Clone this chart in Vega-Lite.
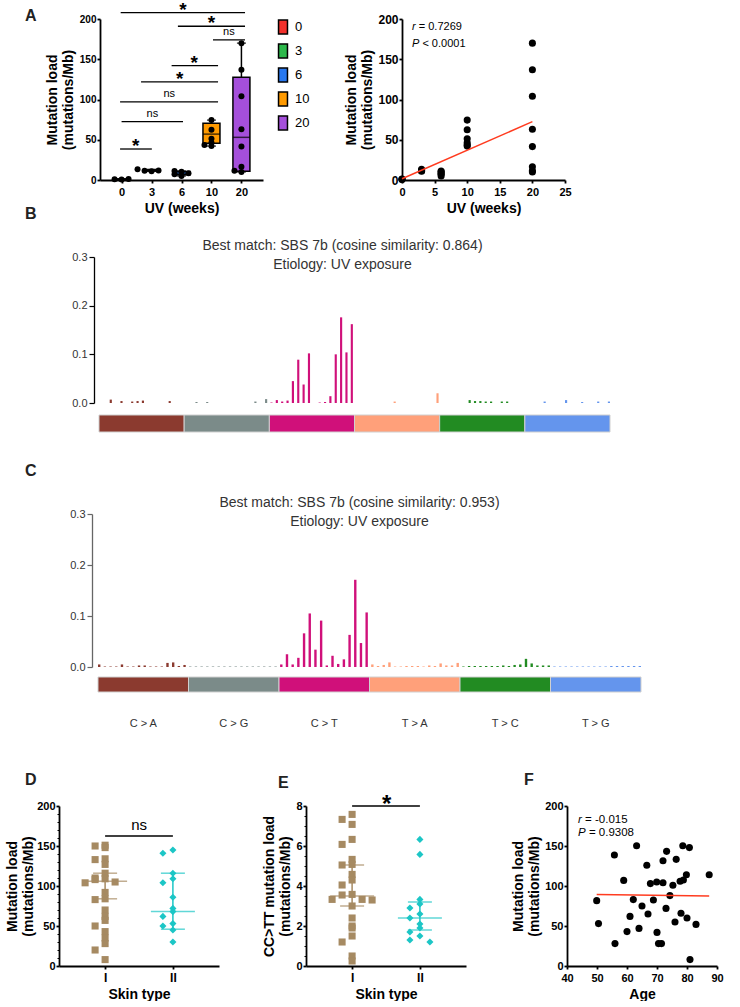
{
"$schema": "https://vega.github.io/schema/vega-lite/v6.json",
"background": "white",
"padding": {"left": 0, "top": 0, "right": 0, "bottom": 0},
"bounds": "flush",
"spacing": 0,
"resolve": {"scale": {"color": "independent", "shape": "independent", "xOffset": "independent"}, "legend": {"color": "independent", "shape": "independent"}},
"config": {
  "view": {"stroke": null},
  "font": "Liberation Sans",
  "axis": {"domainColor": "#000", "tickColor": "#000", "labelColor": "#000", "titleColor": "#000", "labelFont": "Liberation Sans", "titleFont": "Liberation Sans", "labelFontWeight": "bold", "titleFontWeight": "bold", "labelFontSize": 11, "titleFontSize": 14, "grid": false, "tickSize": 3, "labelPadding": 1, "titlePadding": 4, "domainWidth": 1.8, "tickWidth": 1.8, "titleLineHeight": 16, "labelFlush": false, "labelOverlap": false},
  "axisX": {"labelPadding": 3, "labelAngle": 0},
  "title": {"font": "Liberation Sans", "color": "#222"}
},
"datasets": {
  "ptsA": [{"wk":0,"v":0.5},{"wk":0,"v":1.0},{"wk":0,"v":1.3},{"wk":3,"v":10.8},{"wk":3,"v":11.6},{"wk":3,"v":11.8},{"wk":3,"v":13.2},{"wk":6,"v":5},{"wk":6,"v":7},{"wk":6,"v":8.5},{"wk":6,"v":10.2},{"wk":6,"v":11.2},{"wk":10,"v":42.1},{"wk":10,"v":43.5},{"wk":10,"v":46.3},{"wk":10,"v":51.2},{"wk":10,"v":62.4},{"wk":10,"v":74.4},{"wk":20,"v":10},{"wk":20,"v":11.5},{"wk":20,"v":16.5},{"wk":20,"v":41.5},{"wk":20,"v":63},{"wk":20,"v":104},{"wk":20,"v":137},{"wk":20,"v":170}],
  "boxA": [{"wk":0,"lo":0.5,"q1":0.6,"med":1,"q3":1.2,"hi":1.3},{"wk":3,"lo":10.8,"q1":11.2,"med":11.7,"q3":12.6,"hi":13.2},{"wk":6,"lo":5,"q1":6.5,"med":8.5,"q3":10.5,"hi":11.2},{"wk":10,"lo":42.1,"q1":45.5,"med":57,"q3":70.5,"hi":74.4},{"wk":20,"lo":10,"q1":11,"med":53,"q3":127.5,"hi":170}],
  "sigA": [{"x1":-0.03,"x2":4.12,"xm":2.05,"y":208,"lab":"*"},{"x1":1.88,"x2":4.12,"xm":3.0,"y":191,"lab":"*"},{"x1":3.05,"x2":4.12,"xm":3.58,"y":174,"lab":"ns"},{"x1":1.67,"x2":3.22,"xm":2.42,"y":142,"lab":"*"},{"x1":0.65,"x2":3.22,"xm":1.94,"y":122,"lab":"*"},{"x1":-0.05,"x2":3.22,"xm":1.59,"y":97,"lab":"ns"},{"x1":0.0,"x2":2.05,"xm":1.03,"y":72.5,"lab":"ns"},{"x1":-0.05,"x2":1.01,"xm":0.47,"y":38.5,"lab":"*"}],
  "fitA": [{"wk":0,"v":1.5},{"wk":20,"v":72.5}],
  "muts": [{"m":"C>A"},{"m":"C>G"},{"m":"C>T"},{"m":"T>A"},{"m":"T>C"},{"m":"T>G"}],
  "sigB": [
{"m":"C>A","c":"A[C>A]A","v":0},{"m":"C>A","c":"A[C>A]C","v":0},{"m":"C>A","c":"A[C>A]G","v":0.007},{"m":"C>A","c":"A[C>A]T","v":0},{"m":"C>A","c":"C[C>A]A","v":0.004},{"m":"C>A","c":"C[C>A]C","v":0},{"m":"C>A","c":"C[C>A]G","v":0.003},{"m":"C>A","c":"C[C>A]T","v":0.004},{"m":"C>A","c":"G[C>A]A","v":0.005},{"m":"C>A","c":"G[C>A]C","v":0},{"m":"C>A","c":"G[C>A]G","v":0},{"m":"C>A","c":"G[C>A]T","v":0},{"m":"C>A","c":"T[C>A]A","v":0},{"m":"C>A","c":"T[C>A]C","v":0.004},{"m":"C>A","c":"T[C>A]G","v":0},{"m":"C>A","c":"T[C>A]T","v":0},
{"m":"C>G","c":"A[C>G]A","v":0},{"m":"C>G","c":"A[C>G]C","v":0},{"m":"C>G","c":"A[C>G]G","v":0.002},{"m":"C>G","c":"A[C>G]T","v":0},{"m":"C>G","c":"C[C>G]A","v":0.002},{"m":"C>G","c":"C[C>G]C","v":0},{"m":"C>G","c":"C[C>G]G","v":0},{"m":"C>G","c":"C[C>G]T","v":0},{"m":"C>G","c":"G[C>G]A","v":0},{"m":"C>G","c":"G[C>G]C","v":0},{"m":"C>G","c":"G[C>G]G","v":0},{"m":"C>G","c":"G[C>G]T","v":0},{"m":"C>G","c":"T[C>G]A","v":0},{"m":"C>G","c":"T[C>G]C","v":0.003},{"m":"C>G","c":"T[C>G]G","v":0},{"m":"C>G","c":"T[C>G]T","v":0.008},
{"m":"C>T","c":"A[C>T]A","v":0.001},{"m":"C>T","c":"A[C>T]C","v":0.006},{"m":"C>T","c":"A[C>T]G","v":0.003},{"m":"C>T","c":"A[C>T]T","v":0.005},{"m":"C>T","c":"C[C>T]A","v":0.045},{"m":"C>T","c":"C[C>T]C","v":0.089},{"m":"C>T","c":"C[C>T]G","v":0.038},{"m":"C>T","c":"C[C>T]T","v":0.102},{"m":"C>T","c":"G[C>T]A","v":0},{"m":"C>T","c":"G[C>T]C","v":0.001},{"m":"C>T","c":"G[C>T]G","v":0.002},{"m":"C>T","c":"G[C>T]T","v":0.014},{"m":"C>T","c":"T[C>T]A","v":0.1},{"m":"C>T","c":"T[C>T]C","v":0.176},{"m":"C>T","c":"T[C>T]G","v":0.104},{"m":"C>T","c":"T[C>T]T","v":0.162},
{"m":"T>A","c":"A[T>A]A","v":0},{"m":"T>A","c":"A[T>A]C","v":0},{"m":"T>A","c":"A[T>A]G","v":0},{"m":"T>A","c":"A[T>A]T","v":0},{"m":"T>A","c":"C[T>A]A","v":0},{"m":"T>A","c":"C[T>A]C","v":0},{"m":"T>A","c":"C[T>A]G","v":0},{"m":"T>A","c":"C[T>A]T","v":0.003},{"m":"T>A","c":"G[T>A]A","v":0},{"m":"T>A","c":"G[T>A]C","v":0},{"m":"T>A","c":"G[T>A]G","v":0},{"m":"T>A","c":"G[T>A]T","v":0},{"m":"T>A","c":"T[T>A]A","v":0},{"m":"T>A","c":"T[T>A]C","v":0},{"m":"T>A","c":"T[T>A]G","v":0},{"m":"T>A","c":"T[T>A]T","v":0.02},
{"m":"T>C","c":"A[T>C]A","v":0},{"m":"T>C","c":"A[T>C]C","v":0},{"m":"T>C","c":"A[T>C]G","v":0},{"m":"T>C","c":"A[T>C]T","v":0},{"m":"T>C","c":"C[T>C]A","v":0},{"m":"T>C","c":"C[T>C]C","v":0.006},{"m":"T>C","c":"C[T>C]G","v":0.004},{"m":"T>C","c":"C[T>C]T","v":0.004},{"m":"T>C","c":"G[T>C]A","v":0.003},{"m":"T>C","c":"G[T>C]C","v":0.003},{"m":"T>C","c":"G[T>C]G","v":0},{"m":"T>C","c":"G[T>C]T","v":0.003},{"m":"T>C","c":"T[T>C]A","v":0.003},{"m":"T>C","c":"T[T>C]C","v":0},{"m":"T>C","c":"T[T>C]G","v":0},{"m":"T>C","c":"T[T>C]T","v":0},
{"m":"T>G","c":"A[T>G]A","v":0},{"m":"T>G","c":"A[T>G]C","v":0},{"m":"T>G","c":"A[T>G]G","v":0},{"m":"T>G","c":"A[T>G]T","v":0.003},{"m":"T>G","c":"C[T>G]A","v":0},{"m":"T>G","c":"C[T>G]C","v":0},{"m":"T>G","c":"C[T>G]G","v":0},{"m":"T>G","c":"C[T>G]T","v":0.006},{"m":"T>G","c":"G[T>G]A","v":0},{"m":"T>G","c":"G[T>G]C","v":0},{"m":"T>G","c":"G[T>G]G","v":0.002},{"m":"T>G","c":"G[T>G]T","v":0},{"m":"T>G","c":"T[T>G]A","v":0},{"m":"T>G","c":"T[T>G]C","v":0.003},{"m":"T>G","c":"T[T>G]G","v":0},{"m":"T>G","c":"T[T>G]T","v":0.003}],
  "sigC": [
{"m":"C>A","c":"A[C>A]A","v":0.005},{"m":"C>A","c":"A[C>A]C","v":0.001},{"m":"C>A","c":"A[C>A]G","v":0.001},{"m":"C>A","c":"A[C>A]T","v":0.001},{"m":"C>A","c":"C[C>A]A","v":0.005},{"m":"C>A","c":"C[C>A]C","v":0.001},{"m":"C>A","c":"C[C>A]G","v":0.001},{"m":"C>A","c":"C[C>A]T","v":0.003},{"m":"C>A","c":"G[C>A]A","v":0.003},{"m":"C>A","c":"G[C>A]C","v":0.001},{"m":"C>A","c":"G[C>A]G","v":0.001},{"m":"C>A","c":"G[C>A]T","v":0.001},{"m":"C>A","c":"T[C>A]A","v":0.008},{"m":"C>A","c":"T[C>A]C","v":0.009},{"m":"C>A","c":"T[C>A]G","v":0.002},{"m":"C>A","c":"T[C>A]T","v":0.004},
{"m":"C>G","c":"A[C>G]A","v":0.001},{"m":"C>G","c":"A[C>G]C","v":0.001},{"m":"C>G","c":"A[C>G]G","v":0.001},{"m":"C>G","c":"A[C>G]T","v":0.001},{"m":"C>G","c":"C[C>G]A","v":0.001},{"m":"C>G","c":"C[C>G]C","v":0.001},{"m":"C>G","c":"C[C>G]G","v":0.001},{"m":"C>G","c":"C[C>G]T","v":0.001},{"m":"C>G","c":"G[C>G]A","v":0.001},{"m":"C>G","c":"G[C>G]C","v":0.001},{"m":"C>G","c":"G[C>G]G","v":0.001},{"m":"C>G","c":"G[C>G]T","v":0.001},{"m":"C>G","c":"T[C>G]A","v":0.001},{"m":"C>G","c":"T[C>G]C","v":0.001},{"m":"C>G","c":"T[C>G]G","v":0.001},{"m":"C>G","c":"T[C>G]T","v":0.001},
{"m":"C>T","c":"A[C>T]A","v":0.005},{"m":"C>T","c":"A[C>T]C","v":0.025},{"m":"C>T","c":"A[C>T]G","v":0.005},{"m":"C>T","c":"A[C>T]T","v":0.018},{"m":"C>T","c":"C[C>T]A","v":0.066},{"m":"C>T","c":"C[C>T]C","v":0.105},{"m":"C>T","c":"C[C>T]G","v":0.034},{"m":"C>T","c":"C[C>T]T","v":0.091},{"m":"C>T","c":"G[C>T]A","v":0.003},{"m":"C>T","c":"G[C>T]C","v":0.022},{"m":"C>T","c":"G[C>T]G","v":0.006},{"m":"C>T","c":"G[C>T]T","v":0.015},{"m":"C>T","c":"T[C>T]A","v":0.063},{"m":"C>T","c":"T[C>T]C","v":0.171},{"m":"C>T","c":"T[C>T]G","v":0.047},{"m":"C>T","c":"T[C>T]T","v":0.107},
{"m":"T>A","c":"A[T>A]A","v":0.005},{"m":"T>A","c":"A[T>A]C","v":0.002},{"m":"T>A","c":"A[T>A]G","v":0.004},{"m":"T>A","c":"A[T>A]T","v":0.009},{"m":"T>A","c":"C[T>A]A","v":0.001},{"m":"T>A","c":"C[T>A]C","v":0.001},{"m":"T>A","c":"C[T>A]G","v":0.002},{"m":"T>A","c":"C[T>A]T","v":0.002},{"m":"T>A","c":"G[T>A]A","v":0.002},{"m":"T>A","c":"G[T>A]C","v":0.001},{"m":"T>A","c":"G[T>A]G","v":0.003},{"m":"T>A","c":"G[T>A]T","v":0.002},{"m":"T>A","c":"T[T>A]A","v":0.007},{"m":"T>A","c":"T[T>A]C","v":0.003},{"m":"T>A","c":"T[T>A]G","v":0.003},{"m":"T>A","c":"T[T>A]T","v":0.008},
{"m":"T>C","c":"A[T>C]A","v":0.001},{"m":"T>C","c":"A[T>C]C","v":0.002},{"m":"T>C","c":"A[T>C]G","v":0.002},{"m":"T>C","c":"A[T>C]T","v":0.002},{"m":"T>C","c":"C[T>C]A","v":0.002},{"m":"T>C","c":"C[T>C]C","v":0.002},{"m":"T>C","c":"C[T>C]G","v":0.002},{"m":"T>C","c":"C[T>C]T","v":0.003},{"m":"T>C","c":"G[T>C]A","v":0.002},{"m":"T>C","c":"G[T>C]C","v":0.004},{"m":"T>C","c":"G[T>C]G","v":0.005},{"m":"T>C","c":"G[T>C]T","v":0.016},{"m":"T>C","c":"T[T>C]A","v":0.007},{"m":"T>C","c":"T[T>C]C","v":0.003},{"m":"T>C","c":"T[T>C]G","v":0.003},{"m":"T>C","c":"T[T>C]T","v":0.003},
{"m":"T>G","c":"A[T>G]A","v":0.001},{"m":"T>G","c":"A[T>G]C","v":0.001},{"m":"T>G","c":"A[T>G]G","v":0.001},{"m":"T>G","c":"A[T>G]T","v":0.001},{"m":"T>G","c":"C[T>G]A","v":0.001},{"m":"T>G","c":"C[T>G]C","v":0.001},{"m":"T>G","c":"C[T>G]G","v":0.001},{"m":"T>G","c":"C[T>G]T","v":0.001},{"m":"T>G","c":"G[T>G]A","v":0.001},{"m":"T>G","c":"G[T>G]C","v":0.001},{"m":"T>G","c":"G[T>G]G","v":0.002},{"m":"T>G","c":"G[T>G]T","v":0.002},{"m":"T>G","c":"T[T>G]A","v":0.002},{"m":"T>G","c":"T[T>G]C","v":0.002},{"m":"T>G","c":"T[T>G]G","v":0.002},{"m":"T>G","c":"T[T>G]T","v":0.002}],
  "skinD": [{"t":"I","v":151},{"t":"I","v":150},{"t":"I","v":148},{"t":"I","v":134},{"t":"I","v":133},{"t":"I","v":127},{"t":"I","v":116},{"t":"I","v":110},{"t":"I","v":109},{"t":"I","v":108},{"t":"I","v":105},{"t":"I","v":104},{"t":"I","v":92},{"t":"I","v":84},{"t":"I","v":83},{"t":"I","v":70},{"t":"I","v":62},{"t":"I","v":57},{"t":"I","v":50},{"t":"I","v":43},{"t":"I","v":35},{"t":"I","v":28},{"t":"I","v":20},{"t":"I","v":8},{"t":"II","v":145},{"t":"II","v":141},{"t":"II","v":116},{"t":"II","v":109},{"t":"II","v":104},{"t":"II","v":86},{"t":"II","v":72},{"t":"II","v":68},{"t":"II","v":62},{"t":"II","v":53},{"t":"II","v":50},{"t":"II","v":45},{"t":"II","v":30}],
  "statD": [{"t":"I","med":106,"lo":84,"hi":116},{"t":"II","med":68,"lo":46,"hi":116}],
  "skinE": [{"t":"I","v":7.58},{"t":"I","v":7.33},{"t":"I","v":7.08},{"t":"I","v":6.33},{"t":"I","v":6.08},{"t":"I","v":5.33},{"t":"I","v":5.08},{"t":"I","v":5.05},{"t":"I","v":4.58},{"t":"I","v":4.3},{"t":"I","v":4.05},{"t":"I","v":3.58},{"t":"I","v":3.55},{"t":"I","v":3.33},{"t":"I","v":3.33},{"t":"I","v":3.3},{"t":"I","v":3.0},{"t":"I","v":2.4},{"t":"I","v":2.0},{"t":"I","v":1.9},{"t":"I","v":1.5},{"t":"I","v":1.2},{"t":"I","v":0.5},{"t":"I","v":0.25},{"t":"II","v":6.33},{"t":"II","v":5.58},{"t":"II","v":3.33},{"t":"II","v":3.1},{"t":"II","v":2.9},{"t":"II","v":2.6},{"t":"II","v":2.4},{"t":"II","v":2.1},{"t":"II","v":1.9},{"t":"II","v":1.7},{"t":"II","v":1.5},{"t":"II","v":1.3},{"t":"II","v":1.2}],
  "statE": [{"t":"I","med":3.5,"lo":3.0,"hi":5.05},{"t":"II","med":2.4,"lo":1.8,"hi":3.2}],
  "ageF": [{"age":49.9,"v":81.7},{"age":50.5,"v":53},{"age":55.8,"v":138.7},{"age":56,"v":28},{"age":58.9,"v":107},{"age":60,"v":43},{"age":61,"v":62},{"age":62.1,"v":83},{"age":63.2,"v":150.4},{"age":64,"v":47},{"age":65,"v":75},{"age":66.6,"v":126},{"age":67,"v":65},{"age":67.8,"v":103},{"age":68.8,"v":82.5},{"age":69.9,"v":105},{"age":70,"v":42},{"age":70.5,"v":28},{"age":71.5,"v":28},{"age":72,"v":104},{"age":72,"v":131.6},{"age":73,"v":72},{"age":73.2,"v":143.3},{"age":74.3,"v":88},{"age":75.3,"v":101},{"age":76,"v":55},{"age":76.4,"v":133.3},{"age":77.7,"v":106},{"age":78,"v":66},{"age":78.6,"v":150.4},{"age":78.8,"v":107.5},{"age":79.8,"v":114},{"age":80,"v":60},{"age":80.8,"v":148},{"age":81,"v":8},{"age":83,"v":52},{"age":87.4,"v":114}],
  "fitF": [{"age":49.9,"v":89.5},{"age":87.4,"v":87.5}]
},
"vconcat": [
 {"bounds": "flush", "spacing": 0, "resolve": {"scale": {"color": "independent", "shape": "independent", "xOffset": "independent"}, "legend": {"color": "independent", "shape": "independent"}}, "hconcat": [
   {"width": 100, "height": 1, "data": {"values": []}, "mark": "point", "title": {"text": "A", "anchor": "start", "frame": "group", "dx": 25, "dy": 18, "offset": 0, "baseline": "alphabetic", "fontSize": 16, "fontWeight": "bold", "color": "#222"}},
   {"width": 163, "height": 161, "resolve": {"scale": {"x": "independent"}},
    "layer": [
     {"layer": [
       {"data": {"name": "boxA"}, "mark": {"type": "rule", "color": "#000", "strokeWidth": 1.5},
        "encoding": {"x": {"field": "wk", "type": "ordinal", "scale": {"type": "point", "domain": [0,3,6,10,20], "padding": 0.72}, "axis": {"title": "UV (weeks)"}},
                     "y": {"field": "lo", "type": "quantitative", "scale": {"domain": [0,200], "nice": false}, "axis": {"values": [0,50,100,150,200], "title": ["Mutation load","(mutations/Mb)"], "labelFontSize": 10}},
                     "y2": {"field": "hi"}}},
       {"data": {"name": "boxA"}, "mark": {"type": "bar", "size": 17, "stroke": "#000", "strokeWidth": 1.5},
        "encoding": {"x": {"field": "wk", "type": "ordinal", "scale": {"type": "point", "domain": [0,3,6,10,20], "padding": 0.72}, "axis": {"title": "UV (weeks)"}},
                     "y": {"field": "q1", "type": "quantitative", "scale": {"domain": [0,200], "nice": false}, "axis": {"values": [0,50,100,150,200], "title": ["Mutation load","(mutations/Mb)"], "labelFontSize": 10}},
                     "y2": {"field": "q3"},
                     "color": {"field": "wk", "type": "ordinal", "scale": {"domain": [0,3,6,10,20], "range": ["#F2302B","#2DB84B","#2878F0","#FF9A00","#A54FDB"]},
                               "legend": {"title": null, "orient": "right", "offset": 12, "symbolType": "M-0.65,-1L0.65,-1L0.65,1L-0.65,1Z", "symbolSize": 190, "symbolStrokeColor": "#000", "symbolStrokeWidth": 1.5, "labelFontSize": 13, "labelFont": "Liberation Sans", "labelColor": "#000", "rowPadding": 4, "labelOffset": 4, "padding": 0, "symbolOpacity": 1}}}},
       {"data": {"name": "boxA"}, "mark": {"type": "tick", "orient": "horizontal", "size": 17, "thickness": 1.5, "color": "#000"},
        "encoding": {"x": {"field": "wk", "type": "ordinal", "scale": {"type": "point", "domain": [0,3,6,10,20], "padding": 0.72}, "axis": {"title": "UV (weeks)"}},
                     "y": {"field": "med", "type": "quantitative", "scale": {"domain": [0,200], "nice": false}, "axis": {"values": [0,50,100,150,200], "title": ["Mutation load","(mutations/Mb)"], "labelFontSize": 10}}}},
       {"data": {"name": "boxA"}, "mark": {"type": "tick", "orient": "horizontal", "size": 9, "thickness": 1.5, "color": "#000"},
        "encoding": {"x": {"field": "wk", "type": "ordinal", "scale": {"type": "point", "domain": [0,3,6,10,20], "padding": 0.72}, "axis": {"title": "UV (weeks)"}},
                     "y": {"field": "lo", "type": "quantitative", "scale": {"domain": [0,200], "nice": false}, "axis": {"values": [0,50,100,150,200], "title": ["Mutation load","(mutations/Mb)"], "labelFontSize": 10}}}},
       {"data": {"name": "boxA"}, "mark": {"type": "tick", "orient": "horizontal", "size": 9, "thickness": 1.5, "color": "#000"},
        "encoding": {"x": {"field": "wk", "type": "ordinal", "scale": {"type": "point", "domain": [0,3,6,10,20], "padding": 0.72}, "axis": {"title": "UV (weeks)"}},
                     "y": {"field": "hi", "type": "quantitative", "scale": {"domain": [0,200], "nice": false}, "axis": {"values": [0,50,100,150,200], "title": ["Mutation load","(mutations/Mb)"], "labelFontSize": 10}}}},
       {"data": {"name": "ptsA"},
        "transform": [{"bin": {"step": 5}, "field": "v", "as": "vb"}, {"window": [{"op": "row_number", "as": "r"}], "groupby": ["wk", "vb"]}],
        "mark": {"type": "circle", "size": 36, "color": "#000", "opacity": 1},
        "encoding": {"x": {"field": "wk", "type": "ordinal", "scale": {"type": "point", "domain": [0,3,6,10,20], "padding": 0.72}, "axis": {"title": "UV (weeks)"}},
                     "xOffset": {"field": "r", "type": "ordinal", "scale": {"type": "point", "domain": [8,6,4,2,1,3,5,7,9], "range": [-28, 28], "padding": 0}},
                     "y": {"field": "v", "type": "quantitative", "scale": {"domain": [0,200], "nice": false}, "axis": {"values": [0,50,100,150,200], "title": ["Mutation load","(mutations/Mb)"], "labelFontSize": 10}}}}
     ]},
     {"data": {"name": "sigA"}, "layer": [
       {"mark": {"type": "rule", "color": "#000", "strokeWidth": 1.3},
        "encoding": {"x": {"field": "x1", "type": "quantitative", "scale": {"domain": [-0.72, 4.72], "nice": false, "zero": false}, "axis": null}, "x2": {"field": "x2"},
                     "y": {"field": "y", "type": "quantitative", "scale": {"domain": [0,200], "nice": false}, "axis": {"values": [0,50,100,150,200], "title": ["Mutation load","(mutations/Mb)"], "labelFontSize": 10}}}},
       {"transform": [{"filter": "datum.lab == '*'"}], "mark": {"type": "text", "fontSize": 19, "fontWeight": "bold", "baseline": "alphabetic", "dy": 3, "color": "#000"},
        "encoding": {"x": {"field": "xm", "type": "quantitative", "scale": {"domain": [-0.72, 4.72], "nice": false, "zero": false}, "axis": null},
                     "y": {"field": "y", "type": "quantitative", "scale": {"domain": [0,200], "nice": false}, "axis": {"values": [0,50,100,150,200], "title": ["Mutation load","(mutations/Mb)"], "labelFontSize": 10}},
                     "text": {"field": "lab"}}},
       {"transform": [{"filter": "datum.lab == 'ns'"}], "mark": {"type": "text", "fontSize": 11, "baseline": "alphabetic", "dy": -4.5, "color": "#000"},
        "encoding": {"x": {"field": "xm", "type": "quantitative", "scale": {"domain": [-0.72, 4.72], "nice": false, "zero": false}, "axis": null},
                     "y": {"field": "y", "type": "quantitative", "scale": {"domain": [0,200], "nice": false}, "axis": {"values": [0,50,100,150,200], "title": ["Mutation load","(mutations/Mb)"], "labelFontSize": 10}},
                     "text": {"field": "lab"}}}
     ]}
    ]},
   {"width": 139, "height": 1, "data": {"values": []}, "mark": "point"},
   {"width": 163, "height": 161,
    "encoding": {"x": {"field": "wk", "type": "quantitative", "scale": {"domain": [0,25], "nice": false}, "axis": {"values": [0,5,10,15,20,25], "title": "UV (weeks)"}},
                 "y": {"field": "v", "type": "quantitative", "scale": {"domain": [0,200], "nice": false}, "axis": {"values": [0,50,100,150,200], "title": ["Mutation load","(mutations/Mb)"], "labelFontSize": 12, "titlePadding": 3}}},
    "layer": [
     {"data": {"name": "ptsA"}, "mark": {"type": "circle", "size": 50, "color": "#000", "opacity": 1}},
     {"data": {"name": "fitA"}, "mark": {"type": "line", "color": "#FF3B1F", "strokeWidth": 1.5}},
     {"data": {"values": [{"wk": 1.53, "v": 186, "t": "r"}, {"wk": 1.53, "v": 165, "t": "P"}]}, "mark": {"type": "text", "fontSize": 11, "fontStyle": "italic", "align": "left", "baseline": "alphabetic", "color": "#000"},
      "encoding": {"text": {"field": "t"}}},
     {"data": {"values": [{"wk": 1.53, "v": 186, "t": "= 0.7269"}]}, "mark": {"type": "text", "fontSize": 11, "align": "left", "baseline": "alphabetic", "dx": 6.8, "color": "#000"},
      "encoding": {"text": {"field": "t"}}},
     {"data": {"values": [{"wk": 1.53, "v": 165, "t": "< 0.0001"}]}, "mark": {"type": "text", "fontSize": 11, "align": "left", "baseline": "alphabetic", "dx": 10.4, "color": "#000"},
      "encoding": {"text": {"field": "t"}}}
    ]}
 ]},
 {"width": 1, "height": 238, "data": {"values": []}, "mark": "point"},
 {"bounds": "flush", "spacing": 0, "resolve": {"scale": {"color": "independent", "xOffset": "independent"}, "legend": {"color": "independent"}}, "hconcat": [
   {"width": 99, "height": 1, "data": {"values": []}, "mark": "point", "title": {"text": "B", "anchor": "start", "frame": "group", "dx": 25, "dy": -22, "offset": 0, "baseline": "alphabetic", "fontSize": 16, "fontWeight": "bold", "color": "#222"}},
   {"bounds": "flush", "spacing": 12, "resolve": {"scale": {"color": "independent", "xOffset": "independent"}, "legend": {"color": "independent"}}, "vconcat": [
     {"width": 511, "height": 146, "data": {"name": "sigB"},
      "title": {"text": ["Best match: SBS 7b (cosine similarity: 0.864)", "Etiology: UV exposure"], "anchor": "middle", "frame": "group", "dx": -12, "dy": 32, "offset": 0, "baseline": "alphabetic", "fontSize": 14, "fontWeight": "normal", "color": "#333", "lineHeight": 19},
      "mark": {"type": "bar"},
      "encoding": {
        "x": {"field": "c", "type": "nominal", "sort": null, "scale": {"paddingInner": 0.6, "paddingOuter": 0}, "axis": null},
        "y": {"field": "v", "type": "quantitative", "scale": {"domain": [0,0.3], "nice": false}, "axis": {"values": [0,0.1,0.2,0.3], "format": ".1f", "title": null, "labelFontWeight": "normal", "labelFontSize": 11, "labelColor": "#333", "domainWidth": 1.3, "tickWidth": 1.2, "tickSize": 5, "labelPadding": 2, "offset": 5}},
        "color": {"field": "m", "type": "nominal", "scale": {"domain": ["C>A","C>G","C>T","T>A","T>C","T>G"], "range": ["#8B3A2F","#7B8B89","#D0107A","#FFA07A","#228B22","#6495ED"]}, "legend": null}}},
     {"width": 511, "height": 17, "data": {"name": "muts"},
      "mark": {"type": "bar", "stroke": "#d0d0d0", "strokeWidth": 1},
      "encoding": {
        "x": {"field": "m", "type": "nominal", "sort": null, "scale": {"paddingInner": 0, "paddingOuter": 0}, "axis": null},
        "color": {"field": "m", "type": "nominal", "scale": {"domain": ["C>A","C>G","C>T","T>A","T>C","T>G"], "range": ["#8B3A2F","#7B8B89","#D0107A","#FFA07A","#228B22","#6495ED"]}, "legend": null}}}
   ]}
 ]},
 {"width": 1, "height": 257, "data": {"values": []}, "mark": "point"},
 {"bounds": "flush", "spacing": 0, "resolve": {"scale": {"color": "independent", "xOffset": "independent"}, "legend": {"color": "independent"}}, "hconcat": [
   {"width": 98, "height": 1, "data": {"values": []}, "mark": "point", "title": {"text": "C", "anchor": "start", "frame": "group", "dx": 25, "dy": -22, "offset": 0, "baseline": "alphabetic", "fontSize": 16, "fontWeight": "bold", "color": "#222"}},
   {"bounds": "flush", "spacing": 10, "resolve": {"scale": {"color": "independent", "xOffset": "independent"}, "legend": {"color": "independent"}}, "vconcat": [
     {"width": 543, "height": 153, "data": {"name": "sigC"},
      "title": {"text": ["Best match: SBS 7b (cosine similarity: 0.953)", "Etiology: UV exposure"], "anchor": "middle", "frame": "group", "dx": -10, "dy": 32, "offset": 0, "baseline": "alphabetic", "fontSize": 14, "fontWeight": "normal", "color": "#333", "lineHeight": 19},
      "mark": {"type": "bar"},
      "encoding": {
        "x": {"field": "c", "type": "nominal", "sort": null, "scale": {"paddingInner": 0.58, "paddingOuter": 0}, "axis": null},
        "y": {"field": "v", "type": "quantitative", "scale": {"domain": [0,0.3], "nice": false}, "axis": {"values": [0,0.1,0.2,0.3], "format": ".1f", "title": null, "labelFontWeight": "normal", "labelFontSize": 11, "labelColor": "#333", "domainColor": "#666", "tickColor": "#666", "domainWidth": 1.3, "tickWidth": 1.2, "tickSize": 5, "labelPadding": 2, "offset": 6}},
        "color": {"field": "m", "type": "nominal", "scale": {"domain": ["C>A","C>G","C>T","T>A","T>C","T>G"], "range": ["#8B3A2F","#7B8B89","#D0107A","#FFA07A","#228B22","#6495ED"]}, "legend": null}}},
     {"width": 543, "height": 15, "data": {"name": "muts"},
      "mark": {"type": "bar", "stroke": "#d0d0d0", "strokeWidth": 1},
      "encoding": {
        "x": {"field": "m", "type": "nominal", "sort": null, "scale": {"paddingInner": 0, "paddingOuter": 0}, "axis": {"domain": false, "ticks": false, "labelPadding": 25, "labelFontSize": 11, "labelFontWeight": "normal", "labelColor": "#333", "title": null, "labelExpr": "replace(datum.label, '>', ' > ')"}},
        "color": {"field": "m", "type": "nominal", "scale": {"domain": ["C>A","C>G","C>T","T>A","T>C","T>G"], "range": ["#8B3A2F","#7B8B89","#D0107A","#FFA07A","#228B22","#6495ED"]}, "legend": null}}}
   ]}
 ]},
 {"width": 1, "height": 292, "data": {"values": []}, "mark": "point"},
 {"bounds": "flush", "spacing": 0, "resolve": {"scale": {"color": "independent", "shape": "independent", "xOffset": "independent"}, "legend": {"color": "independent", "shape": "independent"}}, "hconcat": [
   {"width": 59, "height": 1, "data": {"values": []}, "mark": "point", "title": {"text": "D", "anchor": "start", "frame": "group", "dx": 25, "dy": -5, "offset": 0, "baseline": "alphabetic", "fontSize": 16, "fontWeight": "bold", "color": "#222"}},
   {"width": 160, "height": 160, "resolve": {"axis": {"y": "independent"}},
    "layer": [
     {"layer": [
     {"data": {"name": "skinD"},
      "transform": [{"bin": {"step": 10}, "field": "v", "as": "vb"}, {"window": [{"op": "row_number", "as": "r"}], "groupby": ["t", "vb"]}],
      "mark": {"type": "point", "filled": true, "size": 50, "opacity": 1},
      "encoding": {"x": {"field": "t", "type": "nominal", "scale": {"type": "point", "domain": ["I","II"], "padding": 0.68}, "axis": {"title": "Skin type", "labelFontSize": 12}},
                   "xOffset": {"field": "r", "type": "ordinal", "scale": {"type": "point", "domain": [8,6,4,2,1,3,5,7,9], "range": [-40, 40], "padding": 0}},
                   "y": {"field": "v", "type": "quantitative", "scale": {"domain": [0,200], "nice": false}, "axis": {"values": [0,50,100,150,200], "title": ["Mutation load","(mutations/Mb)"], "titlePadding": 1}},
                   "color": {"field": "t", "type": "nominal", "scale": {"domain": ["I","II"], "range": ["#A68A62","#1CC6C6"]}, "legend": null},
                   "shape": {"field": "t", "type": "nominal", "scale": {"domain": ["I","II"], "range": ["square","diamond"]}, "legend": null}}},
     {"data": {"name": "statD"}, "mark": {"type": "rule", "strokeWidth": 1.5},
      "encoding": {"x": {"field": "t", "type": "nominal", "scale": {"type": "point", "domain": ["I","II"], "padding": 0.68}, "axis": {"title": "Skin type", "labelFontSize": 12}},
                   "y": {"field": "lo", "type": "quantitative", "scale": {"domain": [0,200], "nice": false}, "axis": {"values": [0,50,100,150,200], "title": ["Mutation load","(mutations/Mb)"], "titlePadding": 1}}, "y2": {"field": "hi"},
                   "color": {"field": "t", "type": "nominal", "scale": {"domain": ["I","II"], "range": ["#A68A62","#1CC6C6"]}, "legend": null}}},
     {"data": {"name": "statD"}, "mark": {"type": "tick", "orient": "horizontal", "size": 44, "thickness": 1.5},
      "encoding": {"x": {"field": "t", "type": "nominal", "scale": {"type": "point", "domain": ["I","II"], "padding": 0.68}, "axis": {"title": "Skin type", "labelFontSize": 12}},
                   "y": {"field": "med", "type": "quantitative", "scale": {"domain": [0,200], "nice": false}, "axis": {"values": [0,50,100,150,200], "title": ["Mutation load","(mutations/Mb)"], "titlePadding": 1}},
                   "color": {"field": "t", "type": "nominal", "scale": {"domain": ["I","II"], "range": ["#A68A62","#1CC6C6"]}, "legend": null}}},
     {"data": {"name": "statD"}, "mark": {"type": "tick", "orient": "horizontal", "size": 24, "thickness": 1.5},
      "encoding": {"x": {"field": "t", "type": "nominal", "scale": {"type": "point", "domain": ["I","II"], "padding": 0.68}, "axis": {"title": "Skin type", "labelFontSize": 12}},
                   "y": {"field": "lo", "type": "quantitative", "scale": {"domain": [0,200], "nice": false}, "axis": {"values": [0,50,100,150,200], "title": ["Mutation load","(mutations/Mb)"], "titlePadding": 1}},
                   "color": {"field": "t", "type": "nominal", "scale": {"domain": ["I","II"], "range": ["#A68A62","#1CC6C6"]}, "legend": null}}},
     {"data": {"name": "statD"}, "mark": {"type": "tick", "orient": "horizontal", "size": 24, "thickness": 1.5},
      "encoding": {"x": {"field": "t", "type": "nominal", "scale": {"type": "point", "domain": ["I","II"], "padding": 0.68}, "axis": {"title": "Skin type", "labelFontSize": 12}},
                   "y": {"field": "hi", "type": "quantitative", "scale": {"domain": [0,200], "nice": false}, "axis": {"values": [0,50,100,150,200], "title": ["Mutation load","(mutations/Mb)"], "titlePadding": 1}},
                   "color": {"field": "t", "type": "nominal", "scale": {"domain": ["I","II"], "range": ["#A68A62","#1CC6C6"]}, "legend": null}}},
     {"data": {"values": [{"t": "I", "t2": "II", "v": 162.5}]}, "mark": {"type": "rule", "color": "#000", "strokeWidth": 1.5},
      "encoding": {"x": {"field": "t", "type": "nominal", "scale": {"type": "point", "domain": ["I","II"], "padding": 0.68}, "axis": {"title": "Skin type", "labelFontSize": 12}}, "x2": {"field": "t2"},
                   "y": {"field": "v", "type": "quantitative", "scale": {"domain": [0,200], "nice": false}, "axis": {"values": [0,50,100,150,200], "title": ["Mutation load","(mutations/Mb)"], "titlePadding": 1}}}},
     {"data": {"values": [{"t": "I", "v": 162.5, "lab": "ns"}]}, "mark": {"type": "text", "fontSize": 15, "baseline": "alphabetic", "dx": 34, "dy": -6, "color": "#000"},
      "encoding": {"x": {"field": "t", "type": "nominal", "scale": {"type": "point", "domain": ["I","II"], "padding": 0.68}, "axis": {"title": "Skin type", "labelFontSize": 12}},
                   "y": {"field": "v", "type": "quantitative", "scale": {"domain": [0,200], "nice": false}, "axis": {"values": [0,50,100,150,200], "title": ["Mutation load","(mutations/Mb)"], "titlePadding": 1}}, "text": {"field": "lab"}}}
     ]},
     {"data": {"name": "statD"}, "mark": {"type": "point", "opacity": 0},
      "encoding": {"x": {"field": "t", "type": "nominal", "scale": {"type": "point", "domain": ["I","II"], "padding": 0.68}, "axis": {"title": "Skin type", "labelFontSize": 12}},
                   "y": {"field": "med", "type": "quantitative", "scale": {"domain": [0,200], "nice": false}, "axis": {"orient": "left", "values": [10,20,30,40,60,70,80,90,110,120,130,140,160,170,180,190], "labels": false, "domain": false, "title": null, "tickSize": 2, "tickWidth": 1}}}}
    ]},
   {"width": 87, "height": 1, "data": {"values": []}, "mark": "point", "title": {"text": "E", "anchor": "start", "frame": "group", "dx": 59, "dy": -2, "offset": 0, "baseline": "alphabetic", "fontSize": 16, "fontWeight": "bold", "color": "#222"}},
   {"width": 160, "height": 160, "resolve": {"axis": {"y": "independent"}},
    "layer": [
     {"layer": [
     {"data": {"name": "skinE"},
      "transform": [{"bin": {"step": 0.4}, "field": "v", "as": "vb"}, {"window": [{"op": "row_number", "as": "r"}], "groupby": ["t", "vb"]}],
      "mark": {"type": "point", "filled": true, "size": 50, "opacity": 1},
      "encoding": {"x": {"field": "t", "type": "nominal", "scale": {"type": "point", "domain": ["I","II"], "padding": 0.68}, "axis": {"title": "Skin type", "labelFontSize": 12}},
                   "xOffset": {"field": "r", "type": "ordinal", "scale": {"type": "point", "domain": [8,6,4,2,1,3,5,7,9], "range": [-40, 40], "padding": 0}},
                   "y": {"field": "v", "type": "quantitative", "scale": {"domain": [0,8], "nice": false}, "axis": {"values": [0,2,4,6,8], "title": ["CC>TT mutation load","(mutations/Mb)"], "titlePadding": 3}},
                   "color": {"field": "t", "type": "nominal", "scale": {"domain": ["I","II"], "range": ["#A68A62","#1CC6C6"]}, "legend": null},
                   "shape": {"field": "t", "type": "nominal", "scale": {"domain": ["I","II"], "range": ["square","diamond"]}, "legend": null}}},
     {"data": {"name": "statE"}, "mark": {"type": "rule", "strokeWidth": 1.5},
      "encoding": {"x": {"field": "t", "type": "nominal", "scale": {"type": "point", "domain": ["I","II"], "padding": 0.68}, "axis": {"title": "Skin type", "labelFontSize": 12}},
                   "y": {"field": "lo", "type": "quantitative", "scale": {"domain": [0,8], "nice": false}, "axis": {"values": [0,2,4,6,8], "title": ["CC>TT mutation load","(mutations/Mb)"], "titlePadding": 3}}, "y2": {"field": "hi"},
                   "color": {"field": "t", "type": "nominal", "scale": {"domain": ["I","II"], "range": ["#A68A62","#1CC6C6"]}, "legend": null}}},
     {"data": {"name": "statE"}, "mark": {"type": "tick", "orient": "horizontal", "size": 44, "thickness": 1.5},
      "encoding": {"x": {"field": "t", "type": "nominal", "scale": {"type": "point", "domain": ["I","II"], "padding": 0.68}, "axis": {"title": "Skin type", "labelFontSize": 12}},
                   "y": {"field": "med", "type": "quantitative", "scale": {"domain": [0,8], "nice": false}, "axis": {"values": [0,2,4,6,8], "title": ["CC>TT mutation load","(mutations/Mb)"], "titlePadding": 3}},
                   "color": {"field": "t", "type": "nominal", "scale": {"domain": ["I","II"], "range": ["#A68A62","#1CC6C6"]}, "legend": null}}},
     {"data": {"name": "statE"}, "mark": {"type": "tick", "orient": "horizontal", "size": 24, "thickness": 1.5},
      "encoding": {"x": {"field": "t", "type": "nominal", "scale": {"type": "point", "domain": ["I","II"], "padding": 0.68}, "axis": {"title": "Skin type", "labelFontSize": 12}},
                   "y": {"field": "lo", "type": "quantitative", "scale": {"domain": [0,8], "nice": false}, "axis": {"values": [0,2,4,6,8], "title": ["CC>TT mutation load","(mutations/Mb)"], "titlePadding": 3}},
                   "color": {"field": "t", "type": "nominal", "scale": {"domain": ["I","II"], "range": ["#A68A62","#1CC6C6"]}, "legend": null}}},
     {"data": {"name": "statE"}, "mark": {"type": "tick", "orient": "horizontal", "size": 24, "thickness": 1.5},
      "encoding": {"x": {"field": "t", "type": "nominal", "scale": {"type": "point", "domain": ["I","II"], "padding": 0.68}, "axis": {"title": "Skin type", "labelFontSize": 12}},
                   "y": {"field": "hi", "type": "quantitative", "scale": {"domain": [0,8], "nice": false}, "axis": {"values": [0,2,4,6,8], "title": ["CC>TT mutation load","(mutations/Mb)"], "titlePadding": 3}},
                   "color": {"field": "t", "type": "nominal", "scale": {"domain": ["I","II"], "range": ["#A68A62","#1CC6C6"]}, "legend": null}}},
     {"data": {"values": [{"t": "I", "t2": "II", "v": 8}]}, "mark": {"type": "rule", "color": "#000", "strokeWidth": 1.5},
      "encoding": {"x": {"field": "t", "type": "nominal", "scale": {"type": "point", "domain": ["I","II"], "padding": 0.68}, "axis": {"title": "Skin type", "labelFontSize": 12}}, "x2": {"field": "t2"},
                   "y": {"field": "v", "type": "quantitative", "scale": {"domain": [0,8], "nice": false}, "axis": {"values": [0,2,4,6,8], "title": ["CC>TT mutation load","(mutations/Mb)"], "titlePadding": 3}}}},
     {"data": {"values": [{"t": "I", "v": 8, "lab": "*"}]}, "mark": {"type": "text", "fontSize": 24, "fontWeight": "bold", "baseline": "alphabetic", "dx": 34.5, "dy": 5.5, "color": "#000"},
      "encoding": {"x": {"field": "t", "type": "nominal", "scale": {"type": "point", "domain": ["I","II"], "padding": 0.68}, "axis": {"title": "Skin type", "labelFontSize": 12}},
                   "y": {"field": "v", "type": "quantitative", "scale": {"domain": [0,8], "nice": false}, "axis": {"values": [0,2,4,6,8], "title": ["CC>TT mutation load","(mutations/Mb)"], "titlePadding": 3}}, "text": {"field": "lab"}}}
     ]},
     {"data": {"name": "statE"}, "mark": {"type": "point", "opacity": 0},
      "encoding": {"x": {"field": "t", "type": "nominal", "scale": {"type": "point", "domain": ["I","II"], "padding": 0.68}, "axis": {"title": "Skin type", "labelFontSize": 12}},
                   "y": {"field": "med", "type": "quantitative", "scale": {"domain": [0,8], "nice": false}, "axis": {"orient": "left", "values": [0.5,1,1.5,2.5,3,3.5,4.5,5,5.5,6.5,7,7.5], "labels": false, "domain": false, "title": null, "tickSize": 2, "tickWidth": 1}}}}
    ]},
   {"width": 101, "height": 1, "data": {"values": []}, "mark": "point", "title": {"text": "F", "anchor": "start", "frame": "group", "dx": 58, "dy": -5, "offset": 0, "baseline": "alphabetic", "fontSize": 16, "fontWeight": "bold", "color": "#222"}},
   {"width": 150, "height": 160,
    "encoding": {"x": {"field": "age", "type": "quantitative", "scale": {"domain": [40,90], "nice": false, "zero": false}, "axis": {"values": [40,50,60,70,80,90], "title": "Age"}},
                 "y": {"field": "v", "type": "quantitative", "scale": {"domain": [0,200], "nice": false}, "axis": {"values": [0,50,100,150,200], "title": ["Mutation load","(mutations/Mb)"], "titlePadding": 3}}},
    "layer": [
     {"data": {"name": "ageF"}, "mark": {"type": "circle", "size": 50, "color": "#000", "opacity": 1}},
     {"data": {"name": "fitF"}, "mark": {"type": "line", "color": "#FF3B1F", "strokeWidth": 1.5}},
     {"data": {"values": [{"age": 43.7, "v": 178.75, "t": "r"}, {"age": 43.7, "v": 163, "t": "P"}]}, "mark": {"type": "text", "fontSize": 11.5, "fontStyle": "italic", "align": "left", "baseline": "alphabetic", "color": "#000"},
      "encoding": {"text": {"field": "t"}}},
     {"data": {"values": [{"age": 43.7, "v": 178.75, "t": "= -0.015"}]}, "mark": {"type": "text", "fontSize": 11.5, "align": "left", "baseline": "alphabetic", "dx": 7, "color": "#000"},
      "encoding": {"text": {"field": "t"}}},
     {"data": {"values": [{"age": 43.7, "v": 163, "t": "= 0.9308"}]}, "mark": {"type": "text", "fontSize": 11.5, "align": "left", "baseline": "alphabetic", "dx": 10.8, "color": "#000"},
      "encoding": {"text": {"field": "t"}}}
    ]}
 ]}
]
}
